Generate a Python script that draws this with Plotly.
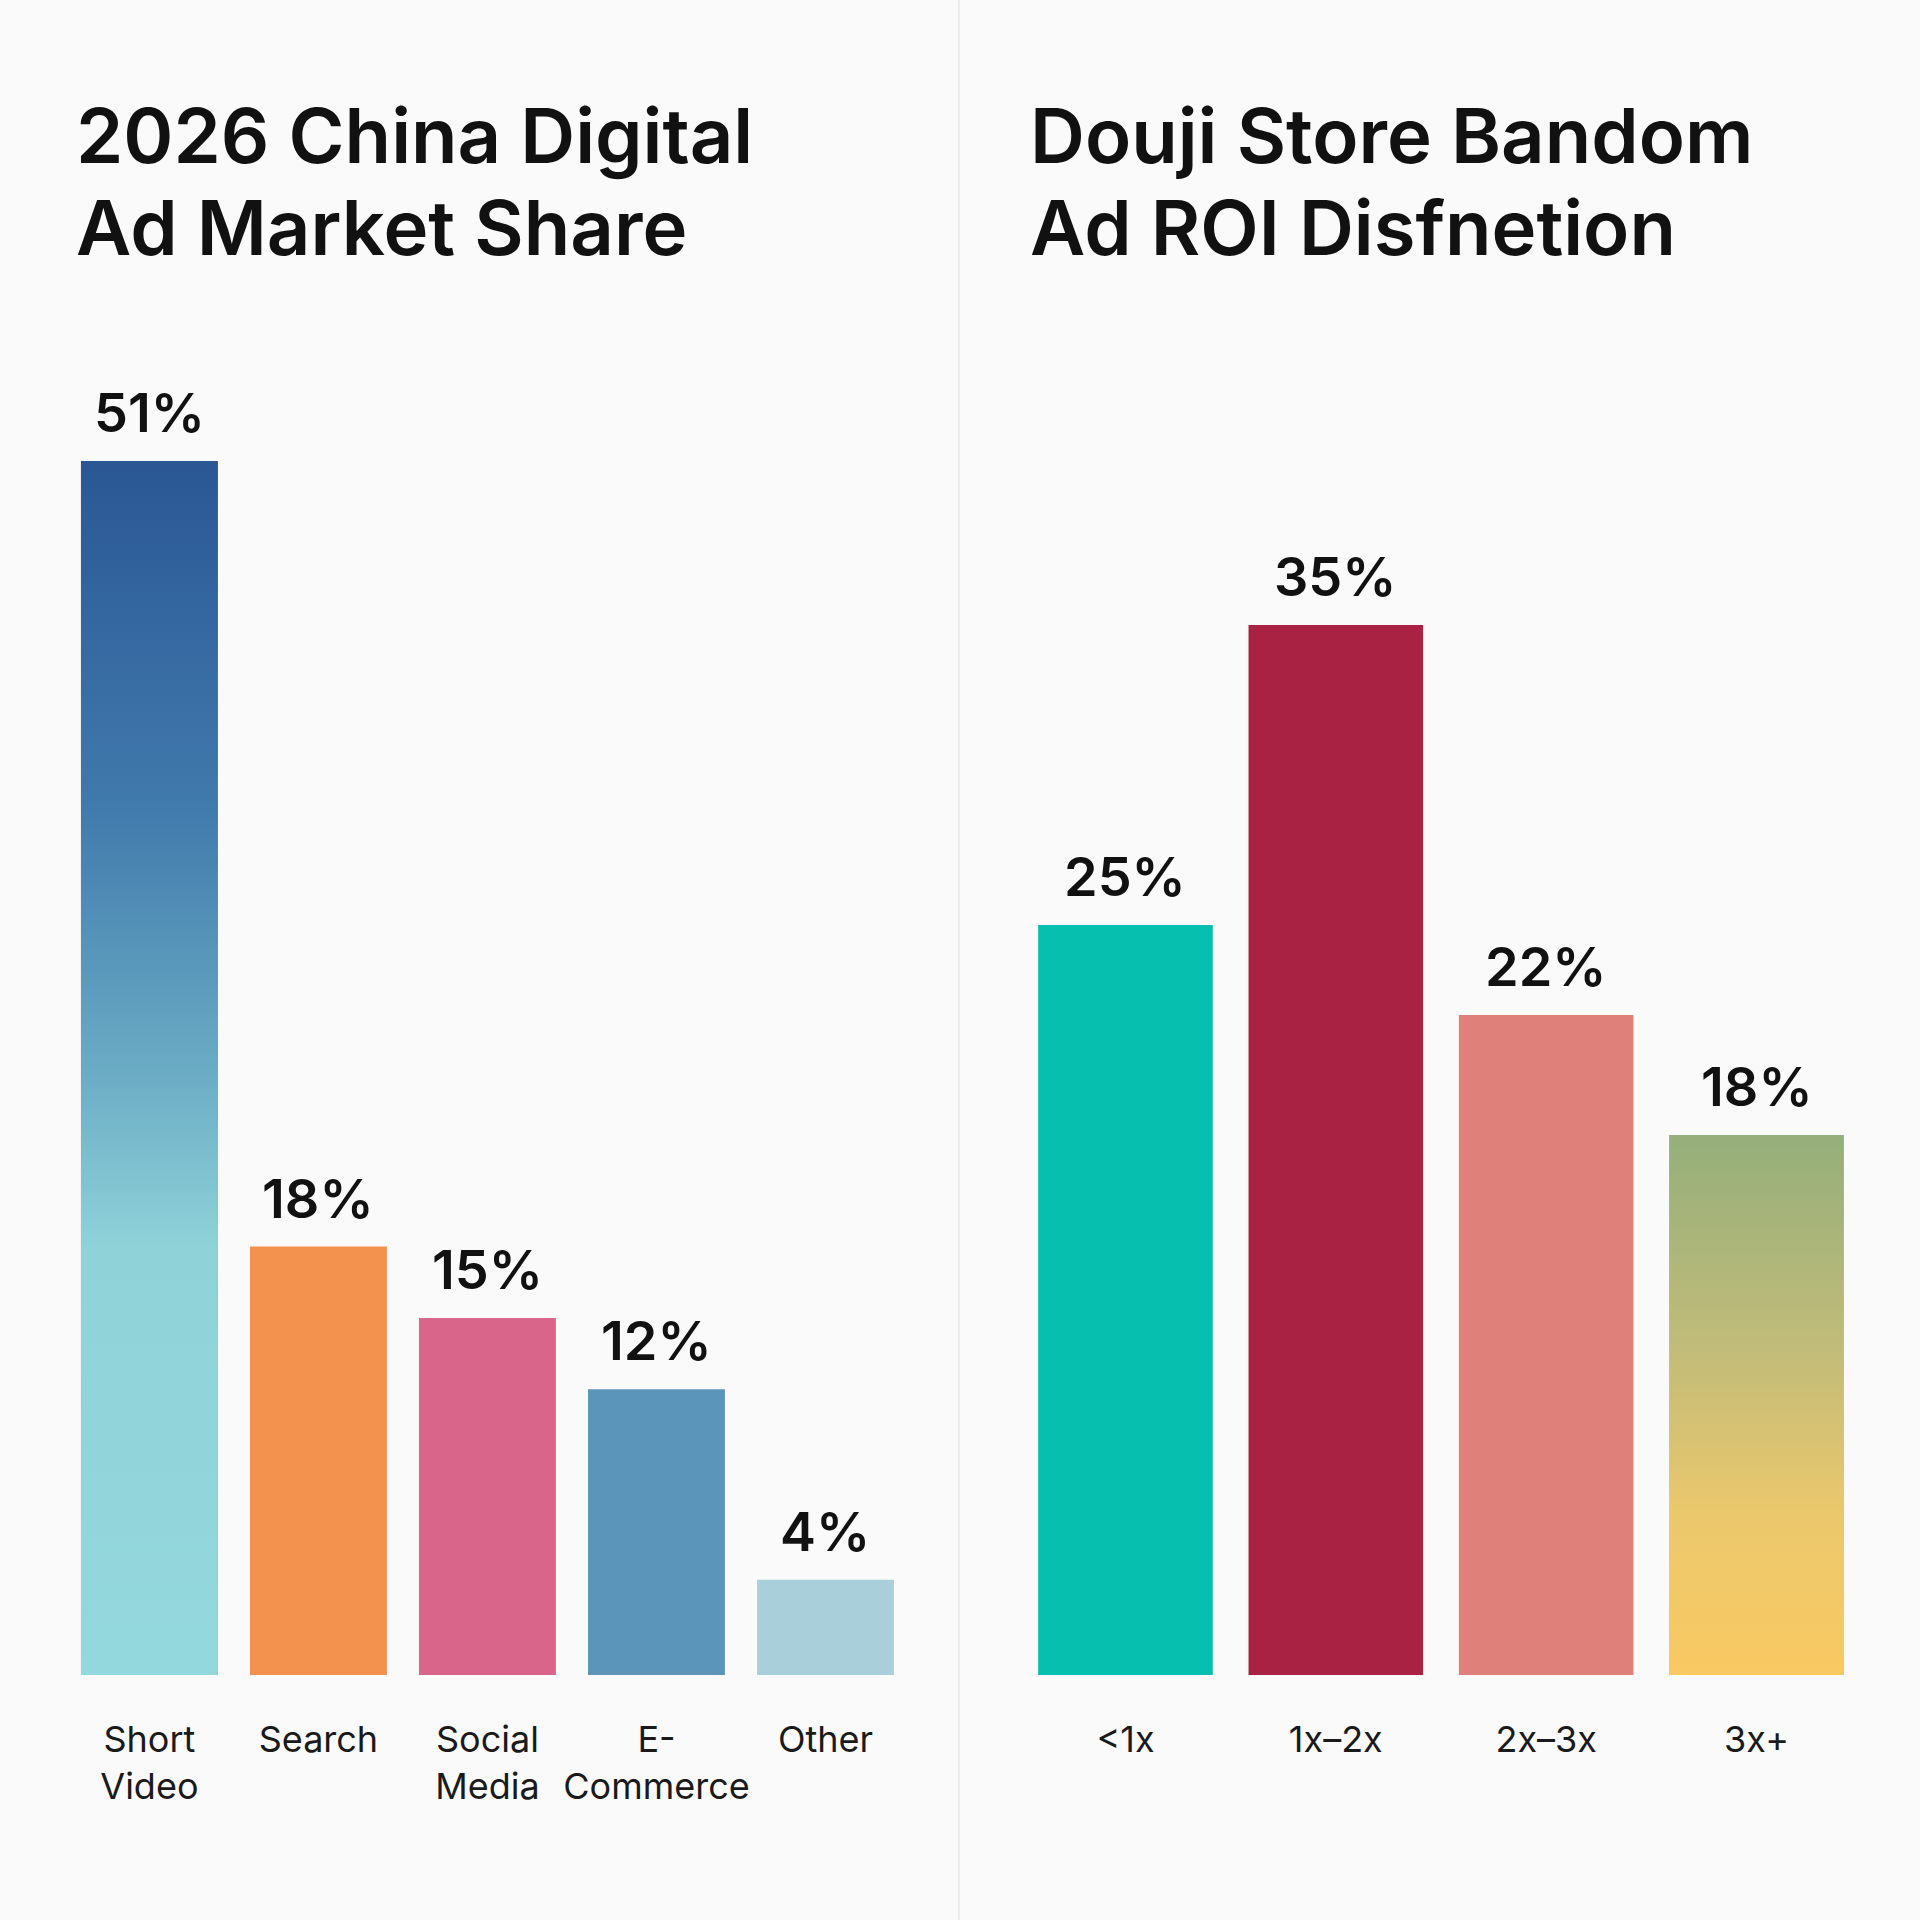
import plotly.graph_objects as go

# ---- data ----
left_title = ["2026 China Digital", "Ad Market Share"]
left_categories = ["Short<br>Video", "Search", "Social<br>Media", "E-<br>Commerce", "Other"]
left_values = [51, 18, 15, 12, 4]
left_colors = ["#5f9ec0", "#f3914f", "#d9668a", "#5b96ba", "#a9cfdb"]

right_title = ["Douji Store Bandom", "Ad ROI Disfnetion"]
right_categories = ["<1x", "1x–2x", "2x–3x", "3x+"]
right_values = [25, 35, 22, 18]
right_colors = ["#07bfae", "#a92244", "#e0807a", "#c8c078"]

# gradient fills (bottom -> top)
gradients = {
    ("left", 0): [[0, "#93d8dc"], [0.35, "#8fd3d9"], [0.5, "#6aabc4"], [0.72, "#4079ac"], [1, "#2a5794"]],
    ("right", 3): [[0, "#f9c962"], [0.3, "#ebc86c"], [0.6, "#c2bc79"], [1, "#95af7a"]],
}

LW = 0.81
RW = 0.83
FONT = "Inter, Lato, sans-serif"

fig = go.Figure()

fig.add_trace(go.Bar(
    x=list(range(len(left_values))), y=left_values, width=LW,
    marker=dict(color=left_colors, line=dict(width=0)),
    xaxis="x", yaxis="y", showlegend=False, hoverinfo="skip"))
fig.add_trace(go.Bar(
    x=list(range(len(right_values))), y=right_values, width=RW,
    marker=dict(color=right_colors, line=dict(width=0)),
    xaxis="x2", yaxis="y2", showlegend=False, hoverinfo="skip"))

# gradient overlays computed from the data
for (side, i), cs in gradients.items():
    vals = left_values if side == "left" else right_values
    w = LW if side == "left" else RW
    v = vals[i]
    fig.add_trace(go.Scatter(
        x=[i - w / 2, i + w / 2, i + w / 2, i - w / 2, i - w / 2],
        y=[0, 0, v, v, 0],
        mode="lines", fill="toself", line=dict(width=0),
        fillgradient=dict(type="vertical", colorscale=cs, start=0, stop=v),
        xaxis="x" if side == "left" else "x2",
        yaxis="y" if side == "left" else "y2",
        showlegend=False, hoverinfo="skip"))

annotations = []
for i, v in enumerate(left_values):
    annotations.append(dict(x=i, y=v, xref="x", yref="y", text=f"{v}%", showarrow=False,
                            yanchor="bottom", yshift=14,
                            font=dict(family=FONT, size=54, color="#111111", weight=600)))
for i, v in enumerate(right_values):
    annotations.append(dict(x=i, y=v, xref="x2", yref="y2", text=f"{v}%", showarrow=False,
                            yanchor="bottom", yshift=14,
                            font=dict(family=FONT, size=54, color="#111111", weight=600)))

# titles
for j, line in enumerate(left_title):
    annotations.append(dict(x=74 / 1920, y=1 - (135 + 92 * j) / 1920, xref="paper", yref="paper",
                            text=line, showarrow=False, xanchor="left", yanchor="middle",
                            font=dict(family=FONT, size=76, color="#111111", weight=600)))
for j, line in enumerate(right_title):
    annotations.append(dict(x=1028 / 1920, y=1 - (135 + 92 * j) / 1920, xref="paper", yref="paper",
                            text=line, showarrow=False, xanchor="left", yanchor="middle",
                            font=dict(family=FONT, size=76, color="#111111", weight=600)))

base = (1920 - 1675) / 1920
axis_common = dict(showgrid=False, zeroline=False, showline=False, ticks="",
                   tickfont=dict(family=FONT, size=36, color="#1a1a1a"))

fig.update_layout(
    width=1920, height=1920,
    margin=dict(l=0, r=0, t=0, b=0),
    paper_bgcolor="#fafafa", plot_bgcolor="rgba(0,0,0,0)",
    xaxis=dict(domain=[64.9 / 1920, 910 / 1920], range=[-0.5, 4.5],
               tickvals=list(range(len(left_categories))), ticktext=left_categories,
               anchor="y", ticklabelstandoff=40, **axis_common),
    yaxis=dict(domain=[base, (1920 - 461) / 1920], range=[0, 51], visible=False, anchor="x"),
    xaxis2=dict(domain=[1020.3 / 1920, 1861.7 / 1920], range=[-0.5, 3.5],
                tickvals=list(range(len(right_categories))), ticktext=right_categories,
                anchor="y2", ticklabelstandoff=40, **axis_common),
    yaxis2=dict(domain=[base, (1920 - 625) / 1920], range=[0, 35], visible=False, anchor="x2"),
    annotations=annotations,
    shapes=[dict(type="line", xref="paper", yref="paper", x0=0.4995, x1=0.4995, y0=0, y1=1,
                 line=dict(color="#ececf0", width=2))],
)

fig.write_html("out.html")
